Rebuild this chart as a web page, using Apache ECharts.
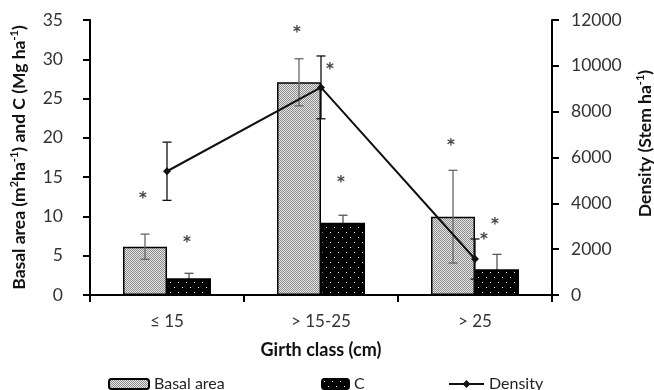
<!DOCTYPE html>
<html>
<head>
<meta charset="utf-8">
<script src="https://cdn.jsdelivr.net/npm/echarts@6/dist/echarts.min.js"></script>
<style>
  html, body { margin: 0; padding: 0; background: #fff; }
  #chart { width: 654px; height: 390px; }
</style>
</head>
<body>
<div id="chart"></div>
<script>
// ---- data ----
const categories = ['≤ 15', '> 15-25', '> 25'];
const basalArea = [6.15, 27.07, 9.97];
const basalErr = [1.6, 3.0, 5.9];
const carbon = [2.12, 9.2, 3.27];
const carbonErr = [0.64, 0.95, 1.9];
const density = [5400, 9060, 1570];
const densityErr = [1270, 1370, 875];
const basalStar = [12.7, 33.8, 19.5];
const carbonStar = [7.1, 14.7, 9.4];
const densityStar = [null, 10000, 2590];

const FONT = 'Lato, "Open Sans", "DejaVu Sans", sans-serif';
const BAR_W = 44;

function makePattern(bg, fg, w, h, dots) {
  const c = document.createElement('canvas');
  c.width = w; c.height = h;
  const ctx = c.getContext('2d');
  ctx.fillStyle = bg; ctx.fillRect(0, 0, w, h);
  ctx.fillStyle = fg;
  dots.forEach(function (d) { ctx.fillRect(d[0], d[1], 1, 1); });
  return c;
}
const basalPattern = { image: makePattern('#e6e6e6', '#8c8c8c', 2, 2, [[0, 0], [1, 1]]), repeat: 'repeat' };
const carbonPattern = { image: makePattern('#000000', '#ffffff', 8, 10, [[2, 2], [6, 7]]), repeat: 'repeat' };

function errorSeries(name, values, errs, yAxisIndex, offset, z, color) {
  return {
    type: 'custom',
    name: name,
    yAxisIndex: yAxisIndex,
    z: z,
    silent: true,
    data: values.map(function (v, i) { return [i, v, errs[i]]; }),
    renderItem: function (params, api) {
      const i = api.value(0), v = api.value(1), e = api.value(2);
      const top = api.coord([i, v + e]);
      const bot = api.coord([i, v - e]);
      const x = top[0] + offset;
      const cap = 4.5;
      const st = { stroke: color, lineWidth: 1.3 };
      return {
        type: 'group',
        children: [
          { type: 'line', shape: { x1: x, y1: top[1], x2: x, y2: bot[1] }, style: st },
          { type: 'line', shape: { x1: x - cap, y1: top[1], x2: x + cap, y2: top[1] }, style: st },
          { type: 'line', shape: { x1: x - cap, y1: bot[1], x2: x + cap, y2: bot[1] }, style: st }
        ]
      };
    }
  };
}

function starSeries(name, values, yAxisIndex, offset) {
  return {
    type: 'custom',
    name: name,
    yAxisIndex: yAxisIndex,
    z: 6,
    silent: true,
    data: values.map(function (v, i) { return [i, v]; }).filter(function (d) { return d[1] != null; }),
    renderItem: function (params, api) {
      const p = api.coord([api.value(0), api.value(1)]);
      return {
        type: 'text',
        x: p[0] + offset,
        y: p[1] + 4,
        style: { text: '*', fill: '#444', font: 'bold 15px "DejaVu Sans", sans-serif', align: 'center', verticalAlign: 'middle' }
      };
    }
  };
}

const chart = echarts.init(document.getElementById('chart'));
const legendText = { fontFamily: FONT, fontSize: 16, color: '#222' };
const supStyle = { fontFamily: FONT, fontSize: 11, fontWeight: 'bold', color: '#111', verticalAlign: 'top', lineHeight: 21 };
chart.setOption({
  animation: false,
  textStyle: { fontFamily: FONT },
  grid: { left: 90, right: 102, top: 20, bottom: 95, containLabel: false, outerBoundsMode: 'none' },
  legend: [
    { data: ['Basal area'], left: 103, top: 371, itemWidth: 40, itemHeight: 10, textStyle: legendText, selectedMode: false },
    { data: ['C'], left: 316, top: 371, itemWidth: 27, itemHeight: 10, textStyle: legendText, selectedMode: false },
    { data: ['Density'], left: 443, top: 371, itemWidth: 35, itemHeight: 10, textStyle: legendText, selectedMode: false }
  ],
  xAxis: {
    type: 'category',
    data: categories,
    name: 'Girth class (cm)',
    nameLocation: 'middle',
    nameGap: 46,
    nameTextStyle: { fontFamily: FONT, fontSize: 18, fontWeight: 'bold', color: '#111' },
    axisLine: { lineStyle: { color: '#000', width: 2 } },
    axisTick: { show: true, length: 7, inside: false, lineStyle: { color: '#000', width: 2 } },
    axisLabel: { fontFamily: FONT, fontSize: 17, color: '#333', margin: 18 }
  },
  yAxis: [
    {
      type: 'value', min: 0, max: 35, interval: 5,
      name: 'Basal area (m{sup|2}ha{sup|-1}) and C (Mg ha{sup|-1})',
      nameLocation: 'middle', nameRotate: 90, nameGap: 60,
      nameTextStyle: {
        fontFamily: FONT, fontSize: 17.5, fontWeight: 'bold', color: '#111', lineHeight: 21,
        rich: { sup: supStyle }
      },
      splitLine: { show: false },
      axisLine: { show: true, lineStyle: { color: '#000', width: 2 } },
      axisTick: { show: true, length: 7, lineStyle: { color: '#000', width: 2 } },
      axisLabel: { fontFamily: FONT, fontSize: 17.5, color: '#333', margin: 27 }
    },
    {
      type: 'value', min: 0, max: 12000, interval: 2000,
      name: 'Density (Stem ha{sup|-1})',
      nameLocation: 'middle', nameRotate: 90, nameGap: 83,
      nameTextStyle: {
        fontFamily: FONT, fontSize: 17.5, fontWeight: 'bold', color: '#111', lineHeight: 21,
        padding: [0, 0, 0, 28],
        rich: { sup: supStyle }
      },
      splitLine: { show: false },
      axisLine: { show: true, lineStyle: { color: '#000', width: 2 } },
      axisTick: { show: true, length: 7, lineStyle: { color: '#000', width: 2 } },
      axisLabel: { fontFamily: FONT, fontSize: 17.5, color: '#333', margin: 19, formatter: function (v) { return String(v); } }
    }
  ],
  series: [
    {
      type: 'bar', name: 'Basal area', data: basalArea, barWidth: BAR_W, barGap: '0%', z: 2,
      itemStyle: { color: basalPattern, borderColor: '#000', borderWidth: 1.5 }
    },
    {
      type: 'bar', name: 'C', data: carbon, barWidth: BAR_W, barGap: '0%', z: 2,
      itemStyle: { color: carbonPattern, borderColor: '#000', borderWidth: 1.5 }
    },
    {
      type: 'line', name: 'Density', yAxisIndex: 1, data: density, z: 5,
      symbol: 'diamond', symbolSize: 8,
      lineStyle: { color: '#111', width: 2 },
      itemStyle: { color: '#111' }
    },
    errorSeries('basalErr', basalArea, basalErr, 0, -BAR_W / 2, 3, '#666'),
    errorSeries('carbonErr', carbon, carbonErr, 0, BAR_W / 2, 1, '#555'),
    errorSeries('densityErr', density, densityErr, 1, 0, 4, '#111'),
    starSeries('basalStar', basalStar, 0, -BAR_W / 2 - 2),
    starSeries('carbonStar', carbonStar, 0, BAR_W / 2 - 2),
    starSeries('densityStar', densityStar, 1, 9)
  ]
});
</script>
</body>
</html>
